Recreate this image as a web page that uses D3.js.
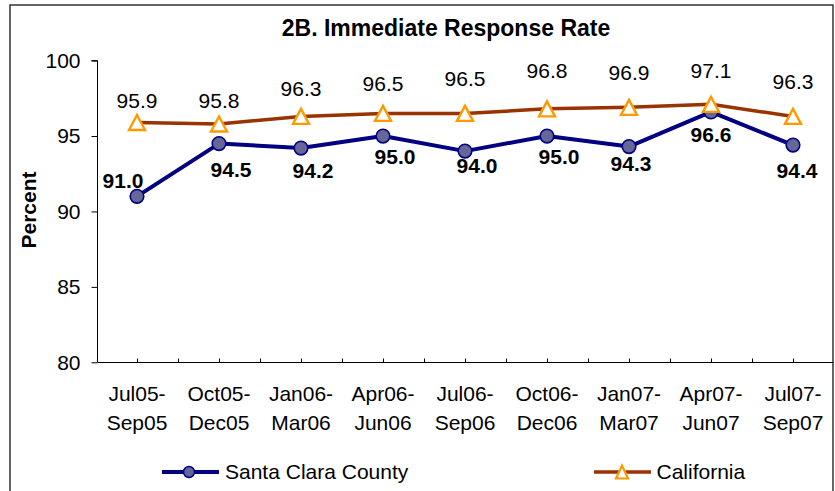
<!DOCTYPE html>
<html>
<head>
<meta charset="utf-8">
<script src="https://cdn.jsdelivr.net/npm/d3@7"></script>
<style>
  html, body { margin: 0; padding: 0; background: #fff; }
  svg { display: block; font-family: "Liberation Sans", Arial, sans-serif; }
</style>
</head>
<body>
<svg id="chart" width="835" height="491"></svg>
<script>
// ---- data ----
const categoriesTop = ["Jul05-", "Oct05-", "Jan06-", "Apr06-", "Jul06-", "Oct06-", "Jan07-", "Apr07-", "Jul07-"];
const categoriesBottom = ["Sep05", "Dec05", "Mar06", "Jun06", "Sep06", "Dec06", "Mar07", "Jun07", "Sep07"];
const santaClara = [91.0, 94.5, 94.2, 95.0, 94.0, 95.0, 94.3, 96.6, 94.4];
const california = [95.9, 95.8, 96.3, 96.5, 96.5, 96.8, 96.9, 97.1, 96.3];
const yTicks = [80, 85, 90, 95, 100];
const seriesNames = ["Santa Clara County", "California"];
const titleText = "2B. Immediate Response Rate";
const yAxisTitle = "Percent";

// ---- label placement (layout, px) ----
const caLabelDy = [-14, -16, -20, -22, -27, -31, -27, -26, -27];
const scLabelDx = [-14, 12, 12, 12, 12, 12, 2, 0, 4];
const scLabelDy = [-8, 33, 30, 28, 22, 28, 24, 30, 33];

const svg = d3.select("#chart");
const navy = "#000080", scFill = "#666699", brown = "#993300", orange = "#FF9900";

// outer border
svg.append("rect").attr("x", 10).attr("y", 5).attr("width", 823).attr("height", 500)
  .attr("fill", "#fff").attr("stroke", "#333").attr("stroke-width", 1.5);

const x = d3.scaleBand().domain(d3.range(categoriesTop.length)).range([96, 834]).paddingInner(0).paddingOuter(0);
const y = d3.scaleLinear().domain([80, 100]).range([362.3, 60.6]);
const cx = i => x(i) + x.bandwidth() / 2;

// title
svg.append("text").attr("x", 446).attr("y", 36).attr("text-anchor", "middle")
  .attr("font-size", 23).attr("font-weight", "bold").text(titleText);

// y axis
const yAxis = d3.axisLeft(y).tickValues(yTicks).tickSize(6).tickPadding(11).tickFormat(d3.format("d"));
const gy = svg.append("g").attr("transform", "translate(97.5,0)").call(yAxis);
gy.select(".domain").attr("stroke", "#000").attr("d", `M-6,${y(100)}H0V${y(80)}`);
gy.selectAll(".tick line").attr("stroke", "#000");
gy.selectAll(".tick text").attr("font-size", 21).attr("fill", "#000")
  .attr("font-family", "Liberation Sans, Arial, sans-serif");

svg.append("text").attr("transform", `translate(36,210) rotate(-90)`).attr("text-anchor", "middle")
  .attr("font-size", 21).attr("font-weight", "bold").text(yAxisTitle);

// x axis line
const xAxisY = Math.round(y(80)) + 0.5;
svg.append("line").attr("x1", 97.5).attr("x2", 833).attr("y1", xAxisY).attr("y2", xAxisY)
  .attr("stroke", "#000").attr("stroke-width", 1);
// ticks at band centers and boundaries (inward)
const tickXs = [];
categoriesTop.forEach((c, i) => { tickXs.push(cx(i)); if (i > 0) tickXs.push(x(i)); });
svg.append("g").selectAll("line").data(tickXs).join("line")
  .attr("x1", d => Math.round(d) + 0.5).attr("x2", d => Math.round(d) + 0.5)
  .attr("y1", xAxisY).attr("y2", xAxisY - 4).attr("stroke", "#000");

// category labels
const cat = svg.append("g").attr("font-size", 21).attr("text-anchor", "middle");
cat.selectAll("text.t").data(categoriesTop).join("text").attr("class", "t")
  .attr("x", (d, i) => cx(i)).attr("y", 401).text(d => d);
cat.selectAll("text.b").data(categoriesBottom).join("text").attr("class", "b")
  .attr("x", (d, i) => cx(i)).attr("y", 430).text(d => d);

const line = d3.line().x((d, i) => cx(i)).y(d => y(d));

function triPath(w, h) {
  return `M0,${-h / 2}L${w / 2},${h / 2}L${-w / 2},${h / 2}Z`;
}

// Santa Clara series
svg.append("path").datum(santaClara).attr("d", line).attr("fill", "none")
  .attr("stroke", navy).attr("stroke-width", 4).attr("stroke-linejoin", "round");
svg.append("g").selectAll("circle").data(santaClara).join("circle")
  .attr("cx", (d, i) => cx(i)).attr("cy", d => y(d)).attr("r", 6.8)
  .attr("fill", scFill).attr("stroke", navy).attr("stroke-width", 1.6);

// California series
svg.append("path").datum(california).attr("d", line).attr("fill", "none")
  .attr("stroke", brown).attr("stroke-width", 3.5).attr("stroke-linejoin", "round");
svg.append("g").selectAll("path").data(california).join("path")
  .attr("transform", (d, i) => `translate(${cx(i)},${y(d)})`)
  .attr("d", triPath(16, 15)).attr("fill", "#fff").attr("stroke", orange).attr("stroke-width", 2.4)
  .attr("stroke-linejoin", "miter");

// labels
svg.append("g").attr("font-size", 21).attr("text-anchor", "middle")
  .selectAll("text").data(california).join("text")
  .attr("x", (d, i) => cx(i)).attr("y", (d, i) => y(d) + caLabelDy[i]).text(d => d.toFixed(1));
svg.append("g").attr("font-size", 21).attr("font-weight", "bold").attr("text-anchor", "middle")
  .selectAll("text").data(santaClara).join("text")
  .attr("x", (d, i) => cx(i) + scLabelDx[i]).attr("y", (d, i) => y(d) + scLabelDy[i]).text(d => d.toFixed(1));

// legend
const lg = svg.append("g").attr("font-size", 21);
lg.append("line").attr("x1", 162).attr("x2", 219).attr("y1", 472).attr("y2", 472)
  .attr("stroke", navy).attr("stroke-width", 4);
lg.append("circle").attr("cx", 189).attr("cy", 472).attr("r", 5.5)
  .attr("fill", scFill).attr("stroke", navy).attr("stroke-width", 1.5);
lg.append("text").attr("x", 225).attr("y", 478.5).text(seriesNames[0]);
lg.append("line").attr("x1", 594).attr("x2", 651).attr("y1", 472).attr("y2", 472)
  .attr("stroke", brown).attr("stroke-width", 3.5);
lg.append("path").attr("transform", "translate(622,472)").attr("d", triPath(12, 13))
  .attr("fill", "#fff").attr("stroke", orange).attr("stroke-width", 2.2);
lg.append("text").attr("x", 656.5).attr("y", 478.5).text(seriesNames[1]);
</script>
</body>
</html>
